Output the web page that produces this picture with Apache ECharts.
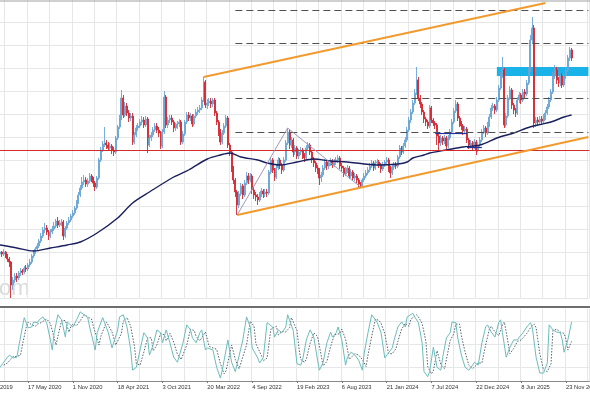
<!DOCTYPE html>
<html><head><meta charset="utf-8">
<script src="https://cdn.jsdelivr.net/npm/echarts@6/dist/echarts.min.js"></script>
<style>html,body{margin:0;padding:0;background:#fff;overflow:hidden}#c{width:590px;height:393px}</style>
</head><body><div id="c"></div>
<script>
// ---------- DATA ----------
const tickLabels = ['1 Dec 2019','17 May 2020','1 Nov 2020','18 Apr 2021','3 Oct 2021','20 Mar 2022','4 Sep 2022','19 Feb 2023','6 Aug 2023','21 Jan 2024','7 Jul 2024','22 Dec 2024','8 Jun 2025','23 Nov 2025'];
const weekCount = 325; // weekly slots shown on the axis (incl. right margin)
const firstWeek = '2019-12-01';

// weekly candles: [open, close, low, high]
const candles = [
[156,157,153,160],[157,158,154,161],[158,160,156,162],[160,159,156,163],[159,161,157,164],[161,160,158,163],[160,162,157,164],[162,161,159,165],[161,159,156,163],[159,161,157,163],
[161,159,156,162],[159,161,157,164],[161,157,155,162],[157,154,151,159],[154,151,146,156],[151,128,115,152],[128,133,123,136],[133,137,130,140],[137,135,131,140],[135,140,133,142],
[140,142,137,145],[142,141,138,144],[141,145,139,147],[145,144,141,148],[144,148,142,150],[148,151,146,154],[151,157,149,159],[157,161,155,163],[161,164,159,166],[164,167,162,170],
[167,172,165,174],[172,177,170,180],[177,183,175,186],[183,185,180,190],[185,181,178,188],[181,177,173,183],[177,181,175,184],[181,184,179,187],[184,187,182,191],[187,192,185,194],
[192,188,185,196],[188,190,186,193],[190,191,187,194],[191,177,173,193],[177,185,175,187],[185,190,183,192],[190,193,188,196],[193,197,191,199],[197,200,195,203],[200,205,198,207],
[205,211,203,213],[211,218,209,221],[218,225,216,228],[225,231,223,236],[231,233,228,238],[233,229,226,236],[229,232,226,235],[232,237,230,240],[237,234,231,239],[234,230,226,236],
[230,226,222,232],[226,235,224,237],[235,253,233,255],[253,263,251,266],[263,269,261,272],[269,270,266,286],[270,268,264,273],[268,265,262,271],[265,267,262,270],[267,263,259,269],
[263,261,257,266],[261,275,259,277],[275,286,273,288],[286,295,284,298],[295,315,293,323],[315,298,295,318],[298,307,296,311],[307,300,297,310],[300,295,291,303],[295,297,292,300],
[297,271,268,300],[271,278,269,281],[278,285,276,288],[285,287,282,290],[287,291,285,294],[291,293,288,297],[293,288,285,296],[288,294,286,297],[294,268,260,296],[268,275,266,278],
[275,278,272,281],[278,283,276,286],[283,287,281,290],[287,283,280,290],[283,280,276,286],[280,267,264,282],[267,281,265,284],[281,316,279,322],[316,288,285,318],[288,293,285,296],
[293,295,290,298],[295,291,288,298],[291,285,281,293],[285,287,282,290],[287,289,284,292],[289,291,286,294],[291,271,268,293],[271,279,269,282],[279,291,277,293],[291,298,289,301],
[298,295,292,301],[295,297,292,300],[297,289,286,299],[289,297,287,299],[297,301,295,304],[301,303,298,306],[303,305,300,308],[305,313,303,316],[313,331,311,336],[331,308,305,333],
[308,310,304,314],[310,312,307,315],[312,309,305,315],[309,313,306,315],[313,300,297,315],[300,291,288,302],[291,281,277,293],[281,271,268,284],[271,280,269,283],[280,287,278,290],
[287,295,285,298],[295,268,265,297],[268,261,257,270],[261,245,241,263],[245,233,229,247],[233,221,216,235],[221,208,198,223],[208,219,205,222],[219,227,217,230],[227,218,214,229],
[218,230,216,233],[230,237,228,241],[237,233,229,240],[233,237,231,240],[237,223,219,239],[223,218,214,226],[218,216,212,221],[216,213,208,219],[213,219,211,221],[219,222,216,225],
[222,219,215,224],[219,221,216,224],[221,220,216,224],[220,241,218,243],[241,253,239,256],[253,243,240,255],[243,236,232,245],[236,245,234,248],[245,253,243,256],[253,248,244,255],
[248,243,239,250],[243,253,241,256],[253,270,251,273],[270,281,268,285],[281,268,264,283],[268,273,265,276],[273,261,256,275],[261,265,258,268],[265,257,254,267],[257,261,254,264],
[261,263,258,266],[263,258,254,265],[258,255,251,260],[255,265,253,268],[265,268,262,271],[268,261,258,270],[261,254,250,263],[254,250,246,256],[250,245,241,252],[245,243,239,248],
[243,235,228,245],[235,238,231,241],[238,245,236,248],[245,251,243,254],[251,247,243,253],[247,250,244,253],[250,252,247,255],[252,248,245,254],[248,251,246,254],[251,253,248,256],
[253,255,250,258],[255,247,244,257],[247,245,241,250],[245,239,236,247],[239,243,237,246],[243,245,240,248],[245,237,234,247],[237,241,235,244],[241,235,232,243],[235,237,232,240],
[237,233,230,239],[233,229,226,235],[229,227,225,231],[227,233,225,235],[233,237,231,240],[237,240,235,243],[240,243,238,246],[243,247,241,250],[247,250,245,253],[250,245,242,252],
[245,250,243,253],[250,251,247,254],[251,248,245,253],[248,244,240,250],[244,248,242,251],[248,251,246,253],[251,253,249,256],[253,245,241,255],[245,240,235,247],[240,246,238,248],
[246,248,243,251],[248,247,244,251],[247,256,245,258],[256,265,254,268],[265,261,258,267],[261,267,259,270],[267,273,265,276],[273,283,271,286],[283,293,281,296],[293,301,290,304],
[301,310,299,313],[310,320,308,324],[320,333,318,346],[333,315,312,336],[315,309,305,318],[309,301,298,311],[301,294,290,303],[294,291,287,296],[291,287,284,293],[287,305,285,308],
[305,293,290,307],[293,290,287,295],[290,288,284,292],[288,277,268,290],[277,270,263,279],[270,275,267,278],[275,272,268,277],[272,275,269,278],[275,267,264,277],[267,275,265,278],
[275,281,273,284],[281,291,279,294],[291,302,289,305],[302,309,300,313],[309,295,292,311],[295,290,286,297],[290,287,283,292],[287,282,278,289],[282,284,279,287],[284,273,270,286],
[273,268,264,275],[268,270,265,273],[270,266,262,272],[266,271,264,274],[271,263,258,273],[263,268,261,271],[268,273,266,276],[273,281,271,284],[281,285,279,288],[285,280,276,287],
[280,288,278,291],[288,296,286,299],[296,305,294,308],[305,307,302,310],[307,303,299,309],[303,313,301,316],[313,325,311,328],[325,337,323,341],[337,343,335,356],[343,288,285,345],
[288,297,286,300],[297,315,295,318],[315,323,313,327],[323,308,304,325],[308,303,299,310],[303,300,296,305],[300,313,298,316],[313,318,310,321],[318,313,309,320],[313,321,311,324],
[321,319,315,324],[319,330,317,333],[330,343,328,346],[343,373,341,378],[373,385,370,396],[385,290,285,388],[290,293,286,296],[293,291,287,296],[291,294,288,297],[294,292,288,297],
[292,296,290,299],[296,300,293,303],[300,306,298,309],[306,313,304,316],[313,321,311,324],[321,337,319,341],[337,343,334,348],[343,333,329,346],[333,330,326,336],[330,337,327,340],
[337,328,325,340],[328,337,326,340],[337,343,334,346],[343,355,341,358],[355,363,352,366],[363,355,352,365]
];

// moving average: [week index, value]
const movingAverage = [[0,170],[5,169],[9,168],[18,165],[27,162],[36,165],[45,168],[52,171],[61,180],[72,195],[80,210],[89,221],[102,236],[110,243],[120,254],[127,258],[132,260],[138,256],[147,253],[152,250],[159,248],[168,251],[177,254],[186,252],[195,251],[204,249],[212,248],[222,249],[227,251],[230,255],[236,258],[239,260],[248,263],[257,266],[266,268],[275,275],[284,280],[291,285],[297,288],[304,291],[311,296],[315,298]];

// stochastic oscillator (0-100): [week index, value]
const stochMain = [[9,19],[11,26],[13,33],[14,36],[16,32],[18,33],[19,47],[21,75],[22,88],[24,74],[26,75],[27,82],[29,81],[30,85],[32,89],[34,81],[36,57],[37,43],[38,67],[40,92],[42,85],[44,61],[45,82],[46,81],[48,75],[50,85],[52,96],[53,94],[56,88],[57,75],[60,43],[61,67],[64,88],[65,81],[67,67],[69,46],[72,71],[73,89],[75,92],[77,75],[79,43],[80,15],[82,19],[84,43],[86,67],[88,60],[89,36],[91,50],[93,71],[95,67],[96,53],[98,71],[100,53],[102,33],[104,26],[107,53],[109,78],[111,71],[112,60],[114,53],[116,67],[117,71],[119,43],[120,46],[123,43],[125,19],[127,4],[128,15],[131,57],[133,26],[135,13],[136,15],[139,57],[141,89],[143,75],[144,46],[147,32],[148,25],[150,33],[152,81],[155,75],[156,61],[158,71],[160,67],[162,75],[163,92],[164,90],[166,70],[167,47],[168,24],[170,22],[171,29],[173,57],[175,71],[177,61],[179,29],[180,15],[182,26],[184,53],[186,68],[187,61],[189,67],[190,75],[192,57],[194,22],[195,33],[197,40],[199,36],[201,29],[203,15],[204,39],[206,67],[208,92],[210,85],[211,81],[213,67],[215,32],[217,39],[219,46],[220,57],[222,75],[224,82],[226,75],[227,89],[230,94],[231,89],[233,81],[235,53],[236,13],[238,6],[239,13],[241,47],[243,19],[245,15],[246,33],[248,60],[250,67],[251,82],[253,81],[254,61],[256,36],[258,19],[260,15],[262,22],[263,26],[265,22],[267,53],[269,75],[270,78],[272,68],[274,61],[276,81],[277,85],[278,67],[280,33],[282,47],[284,57],[286,57],[287,61],[289,67],[291,75],[293,81],[294,74],[296,33],[298,11],[300,11],[302,25],[303,78],[305,71],[307,68],[309,67],[310,57],[311,40],[313,57],[315,82]];
const stochSignal = [[11,22],[13,25],[15,31],[16,34],[18,34],[20,36],[21,50],[23,74],[24,82],[26,78],[28,76],[29,79],[31,81],[32,83],[34,86],[36,80],[38,60],[39,50],[40,62],[42,84],[44,84],[46,68],[47,76],[48,79],[50,77],[52,84],[54,92],[55,92],[58,86],[59,76],[62,50],[63,62],[66,82],[67,80],[69,68],[71,50],[74,66],[75,83],[77,88],[79,76],[81,48],[82,24],[84,22],[86,40],[88,60],[90,60],[91,42],[93,50],[95,66],[97,64],[98,56],[100,66],[102,54],[104,37],[106,30],[109,50],[111,72],[113,70],[114,62],[116,56],[118,64],[119,68],[121,48],[122,46],[125,44],[127,24],[129,10],[130,14],[133,50],[135,30],[137,17],[138,16],[141,50],[143,83],[145,76],[146,52],[149,35],[150,28],[152,32],[154,72],[157,76],[158,64],[160,69],[162,68],[164,74],[165,88],[166,88],[168,70],[169,47],[170,30],[172,26],[173,30],[175,52],[177,67],[179,62],[181,35],[182,21],[184,27],[186,48],[188,64],[189,62],[191,66],[192,72],[194,58],[196,30],[197,32],[199,38],[201,36],[203,30],[205,20],[206,36],[208,62],[210,86],[212,84],[213,80],[215,66],[217,38],[219,38],[221,45],[222,55],[224,72],[226,80],[228,76],[229,86],[232,92],[233,89],[235,80],[237,55],[238,20],[240,10],[241,14],[243,42],[245,23],[247,17],[248,30],[250,56],[252,66],[253,79],[255,79],[256,63],[258,40],[260,22],[262,17],[264,22],[265,25],[267,25],[269,50],[271,72],[272,76],[274,68],[276,63],[278,78],[279,82],[280,68],[282,38],[284,45],[286,55],[288,57],[289,60],[291,66],[293,74],[295,79],[296,74],[298,38],[300,15],[302,13],[304,24],[305,70],[307,72],[309,68],[311,66],[312,58],[313,43],[315,55]];

// drawn analysis objects (week index, price)
const supportLevel = 263;
const dashedLevels = [403, 370, 315, 281];
const dashedFrom = 135;
const channelUpper = [[118,336],[301,410]];
const channelLower = [[136,198],[324,276]];
const swingLines = [[[136,198],[163,285]], [[163,285],[202,226]]];
const boxLines = [[[242,280],[259,280]], [[259,266],[267,266]]];
const zone = [[275,346],[324,337]];

// ---------- CHART ----------
const weeks = [];
{ const t0 = Date.parse(firstWeek + 'T00:00:00Z');
  for (let k = 0; k < weekCount; k++) weeks.push(new Date(t0 + k*7*86400000).toISOString().slice(0,10)); }

const slot = 1.868;
const gLeft = -17.77, gWidth = weekCount*slot;
const gridColor = '#e6e7e9';

const mlData = [];
mlData.push({ yAxis: supportLevel, lineStyle: { color: '#d42a2a', width: 1.2, type: 'solid' } });
dashedLevels.forEach(v => mlData.push([{ coord: [dashedFrom, v], lineStyle: { color: '#505050', width: 1, type: [7,4] } }, { coord: [weekCount-1, v] }]));
[channelUpper, channelLower].forEach(c => mlData.push([{ coord: c[0], lineStyle: { color: '#f29a2e', width: 2, type: 'solid' } }, { coord: c[1] }]));
swingLines.forEach(c => mlData.push([{ coord: c[0], lineStyle: { color: '#a396bd', width: 1, type: 'solid' } }, { coord: c[1] }]));
boxLines.forEach(c => mlData.push([{ coord: c[0], lineStyle: { color: '#2230a0', width: 1.2, type: 'solid' } }, { coord: c[1] }]));

const chart = echarts.init(document.getElementById('c'), null, { renderer: 'canvas' });
chart.setOption({
  animation: false,
  backgroundColor: '#fff',
  grid: [
    { left: gLeft, top: -1, width: gWidth, height: 299, containLabel: false, outerBoundsMode: 'none' },
    { left: gLeft, top: 309, width: gWidth, height: 72, containLabel: false, outerBoundsMode: 'none' }
  ],
  xAxis: [
    { type: 'category', gridIndex: 0, data: weeks, boundaryGap: true,
      axisLine: { show: false }, axisTick: { show: false }, axisLabel: { show: false },
      splitLine: { show: true, interval: 11, lineStyle: { color: gridColor, width: 1 } } },
    { type: 'category', gridIndex: 1, data: weeks, boundaryGap: true, offset: 2,
      axisLine: { show: true, lineStyle: { color: '#8a8a8a', width: 1 } },
      axisTick: { show: true, interval: 23, alignWithLabel: true, length: 2, lineStyle: { color: '#777' } },
      axisLabel: { show: true, interval: 23, align: 'left', margin: 1, fontSize: 5.8, lineHeight: 7,
        color: '#333', fontFamily: 'Liberation Sans', hideOverlap: false,
        formatter: (v, i) => (i % 24 === 0 && tickLabels[i/24]) ? tickLabels[i/24] : '' },
      splitLine: { show: true, interval: 11, lineStyle: { color: gridColor, width: 1 } } }
  ],
  yAxis: [
    { type: 'value', gridIndex: 0, min: 115, max: 414, interval: 23, scale: false,
      axisLine: { show: false }, axisTick: { show: false }, axisLabel: { show: false },
      splitLine: { show: true, lineStyle: { color: gridColor, width: 1 } } },
    { type: 'value', gridIndex: 1, min: 0, max: 100,
      axisLine: { show: false }, axisTick: { show: false }, axisLabel: { show: false },
      splitLine: { show: false } }
  ],
  graphic: [
    { type: 'text', z: 0, silent: true, style: { text: 'om', x: -1, y: 278, font: '22px "Liberation Sans"', fill: '#dadada' } },
    { type: 'line', z: 10, silent: true, shape: { x1: 0, y1: 1, x2: 590, y2: 1 }, style: { stroke: '#a0a0a0', lineWidth: 1 } },
    { type: 'line', z: 10, silent: true, shape: { x1: 0, y1: 307, x2: 590, y2: 307 }, style: { stroke: '#6e6e6e', lineWidth: 2 } }
  ],
  series: [
    { type: 'candlestick', xAxisIndex: 0, yAxisIndex: 0, data: candles, barWidth: 1.5, z: 3,
      itemStyle: { color: '#6aa5d4', color0: '#d6262f', borderColor: '#6aa5d4', borderColor0: '#d6262f', borderWidth: 0.9 },
      markArea: { silent: true, data: [[{ coord: zone[0], itemStyle: { color: '#19b3ea', opacity: 1 } }, { coord: zone[1] }]] },
      markLine: { silent: true, symbol: ['none','none'], label: { show: false }, data: mlData } },
    { type: 'line', xAxisIndex: 0, yAxisIndex: 0, data: movingAverage, smooth: 0.3, showSymbol: false, z: 4,
      lineStyle: { color: '#1a1f5e', width: 1.4 } },
    { type: 'line', xAxisIndex: 1, yAxisIndex: 1, data: stochSignal, showSymbol: false, z: 3,
      lineStyle: { color: '#56606a', width: 1, type: [1.5,1.5] } },
    { type: 'line', xAxisIndex: 1, yAxisIndex: 1, data: stochMain, showSymbol: false, z: 4,
      lineStyle: { color: '#6cbcbc', width: 1 },
      markLine: { silent: true, z: 0, symbol: ['none','none'], label: { show: false },
        lineStyle: { color: gridColor, width: 1, type: 'solid' },
        data: [{ yAxis: 83.3 }, { yAxis: 51.4 }, { yAxis: 19.4 }] } }
  ]
});
</script>
</body></html>
